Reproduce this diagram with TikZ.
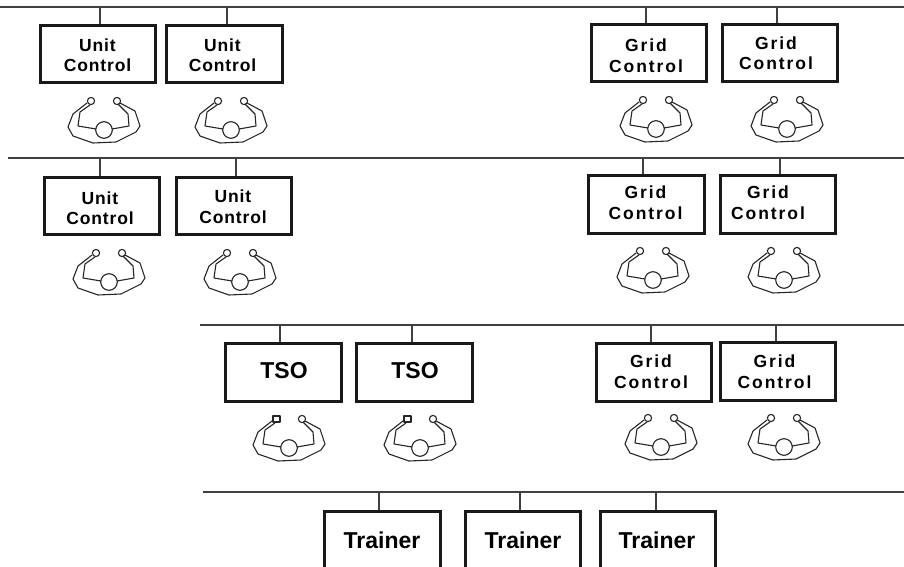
\documentclass[tikz,border=0pt]{standalone}
\usepackage{fontspec}
\setmainfont{Liberation Sans}
\newfontfamily\unitface[LetterSpace=5]{Liberation Sans}
\newfontfamily\gridface[LetterSpace=11]{Liberation Sans}
\tikzset{
  x=1pt,y=-1pt,
  busline/.style={line width=1.2pt,draw=black!75},
  dropline/.style={line width=1.1pt,draw=black!75},
  framebox/.style={draw=black!90,line width=2.7pt,minimum width=115.5pt,minimum height=57.5pt,inner sep=0pt},
  boxtext/.style={inner sep=0pt,align=center},
  unittext/.style={boxtext,font=\unitface\bfseries\fontsize{17.5}{20.5}\selectfont},
  gridtext/.style={boxtext,font=\gridface\bfseries\fontsize{17.5}{20.5}\selectfont},
  bigtext/.style={boxtext,font=\bfseries\fontsize{23}{26}\selectfont},
  opline/.style={line width=1.1pt,draw=black!85,line join=round},
  opbody/.pic={
    \draw[opline] (0,0) circle[radius=8.3];
    \draw[opline] (13,-29) circle[radius=3.6];
    \draw[opline] (-17,-27) -- (-31,-16) -- (-36,-3) -- (-31,6) -- (-11,13) -- (12,12) -- (32,2) -- (36,-4) -- (31,-19) -- (16,-27);
    \draw[opline] (-14,-25) -- (-24,-18) -- (-26,-4) -- (-8,-1);
    \draw[opline] (8,-1) -- (25,-4) -- (24,-16) -- (14,-26);
  },
  operator/.pic={
    \pic {opbody};
    \draw[opline] (-13,-29) circle[radius=3.6];
  },
  squareoperator/.pic={
    \pic {opbody};
    \draw[opline] (-16,-32) rectangle (-9,-26);
  }
}
\begin{document}
\begin{tikzpicture}
\useasboundingbox (0,0) rectangle (904,567);
% buses
\coordinate (busAl) at (0,7);     \coordinate (busAr) at (904,7);
\coordinate (busBl) at (8,158);   \coordinate (busBr) at (904,158);
\coordinate (busCl) at (200,325); \coordinate (busCr) at (904,325);
\coordinate (busDl) at (203,492); \coordinate (busDr) at (904,492);
\draw[busline] (busAl) -- (busAr);
\draw[busline] (busBl) -- (busBr);
\draw[busline] (busCl) -- (busCr);
\draw[busline] (busDl) -- (busDr);
% row 1
\node[framebox] (a1) at (98,54) {};
\node[framebox] (a2) at (224.5,54) {};
\node[framebox] (a3) at (649,53) {};
\node[framebox] (a4) at (780,53) {};
\node[unittext] (a1t) at (97.5,55) {Unit\\Control};
\node[unittext] (a2t) at (222.5,55) {Unit\\Control};
\node[gridtext] (a3t) at (646,55.5) {Grid\\Control};
\node[gridtext] (a4t) at (776,53) {Grid\\Control};
% row 2
\node[framebox] (b1) at (102,206) {};
\node[framebox] (b2) at (234,206) {};
\node[framebox] (b3) at (646.5,204.5) {};
\node[framebox] (b4) at (778,204.5) {};
\node[unittext] (b1t) at (100,208) {Unit\\Control};
\node[unittext] (b2t) at (233,206.5) {Unit\\Control};
\node[gridtext] (b3t) at (645.5,202.5) {Grid\\Control};
\node[gridtext] (b4t) at (768,202.5) {Grid\\Control};
% row 3
\node[framebox] (c1) at (283.5,372.5) {};
\node[framebox] (c2) at (414.5,372.5) {};
\node[framebox] (c3) at (654,372.5) {};
\node[framebox] (c4) at (778,371.5) {};
\node[bigtext] (c1t) at (284,371) {TSO};
\node[bigtext] (c2t) at (415,371) {TSO};
\node[gridtext] (c3t) at (651,371.5) {Grid\\Control};
\node[gridtext] (c4t) at (774.5,371.5) {Grid\\Control};
% row 4
\node[framebox] (d1) at (382.5,540) {};
\node[framebox] (d2) at (523,540) {};
\node[framebox] (d3) at (658,540) {};
\node[bigtext] (d1t) at (382,540) {Trainer};
\node[bigtext] (d2t) at (523,540) {Trainer};
\node[bigtext] (d3t) at (657,540) {Trainer};
% drops
\foreach \bx/\n/\bus in {100/a1/A,227/a2/A,646/a3/A,777/a4/A,100/b1/B,236/b2/B,643/b3/B,780/b4/B,280/c1/C,412/c2/C,651/c3/C,776/c4/C,379/d1/D,520/d2/D,656/d3/D}{
  \draw[dropline] (\bx,0 |- bus\bus l) -- (\bx,0 |- \n.north);
}
% operators
\foreach \px/\py in {104/130,231/130,656/129,787/129,109/282,240/282,653/280,784/280,661/447,784/447}{
  \pic at (\px,\py) {operator};
}
\pic at (289,448) {squareoperator};
\pic at (420,448) {squareoperator};
\end{tikzpicture}
\end{document}
